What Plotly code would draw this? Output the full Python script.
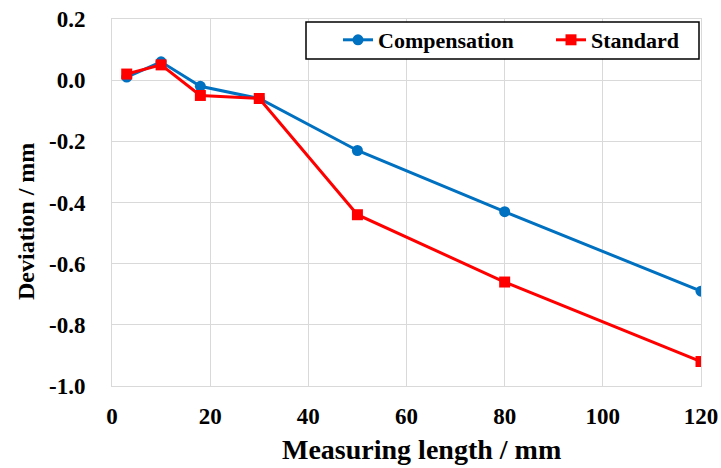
import plotly.graph_objects as go

# Data
x_comp = [3, 10, 18, 30, 50, 80, 120]
y_comp = [0.01, 0.06, -0.02, -0.06, -0.23, -0.43, -0.69]
x_std = [3, 10, 18, 30, 50, 80, 120]
y_std = [0.02, 0.05, -0.05, -0.06, -0.44, -0.66, -0.92]

x_tickvals = [0, 20, 40, 60, 80, 100, 120]
x_ticktext = ["0", "20", "40", "60", "80", "100", "120"]
y_tickvals = [0.2, 0.0, -0.2, -0.4, -0.6, -0.8, -1.0]
y_ticktext = ["0.2", "0.0", "-0.2", "-0.4", "-0.6", "-0.8", "-1.0"]

FONT = "Liberation Serif"
BLUE = "#0070C0"
RED = "#FF0000"
GRID = "#d9d9d9"

L, R, T, B = 112, 20, 19, 82
PW = 721 - L - R
PH = 468 - T - B


def px_x(p):
    return (p - L) / PW


def px_y(p):
    return (468 - B - p) / PH


fig = go.Figure()
fig.add_trace(go.Scatter(
    x=x_comp, y=y_comp, name="<b>Compensation</b>", mode="lines+markers",
    line=dict(color=BLUE, width=3),
    marker=dict(symbol="circle", size=11, color=BLUE),
    legend="legend",
))
fig.add_trace(go.Scatter(
    x=x_std, y=y_std, name="<b>Standard</b>", mode="lines+markers",
    line=dict(color=RED, width=3),
    marker=dict(symbol="square", size=11, color=RED),
    legend="legend2",
))

# legend frame
fig.add_shape(type="rect", xref="paper", yref="paper",
              x0=px_x(306), x1=px_x(699), y0=px_y(59), y1=px_y(22),
              line=dict(color="black", width=1.5), fillcolor="white", layer="above")

leg_common = dict(
    orientation="h", yanchor="middle", y=px_y(40), xanchor="left",
    bgcolor="rgba(0,0,0,0)", borderwidth=0,
    font=dict(family=FONT, size=22, color="black"),
)

fig.update_layout(
    width=721, height=468,
    margin=dict(l=L, r=R, t=T, b=B),
    paper_bgcolor="white", plot_bgcolor="white",
    font=dict(family=FONT, color="black"),
    showlegend=True,
    legend=dict(x=px_x(338), **leg_common),
    legend2=dict(x=px_x(551), **leg_common),
    xaxis=dict(
        range=[0, 120], tickvals=x_tickvals, ticktext=x_ticktext,
        showgrid=True, gridcolor=GRID, gridwidth=1,
        showline=True, linecolor=GRID, linewidth=1, mirror=True,
        zeroline=False, ticks="", ticklabelstandoff=9, automargin=False,
        tickfont=dict(family=FONT, size=23, color="black", weight="bold"),
    ),
    yaxis=dict(
        range=[-1.0, 0.2], tickvals=y_tickvals, ticktext=y_ticktext,
        showgrid=True, gridcolor=GRID, gridwidth=1,
        showline=True, linecolor=GRID, linewidth=1, mirror=True,
        zeroline=False, ticks="", ticklabelstandoff=21, automargin=False,
        tickfont=dict(family=FONT, size=23, color="black", weight="bold"),
    ),
    annotations=[
        dict(
            text="<b>Deviation / mm</b>", xref="paper", yref="paper",
            x=px_x(26), y=px_y(222), xanchor="center", yanchor="middle",
            textangle=-90, showarrow=False,
            font=dict(family=FONT, size=24, color="black"),
        ),
        dict(
            text="<b>Measuring length / mm</b>", xref="paper", yref="paper",
            x=px_x(421), y=px_y(450), xanchor="center", yanchor="middle",
            showarrow=False,
            font=dict(family=FONT, size=28, color="black"),
        ),
    ],
)

fig.write_html("out.html", post_script="document.body.style.margin='0';",
               config={"displayModeBar": False})
